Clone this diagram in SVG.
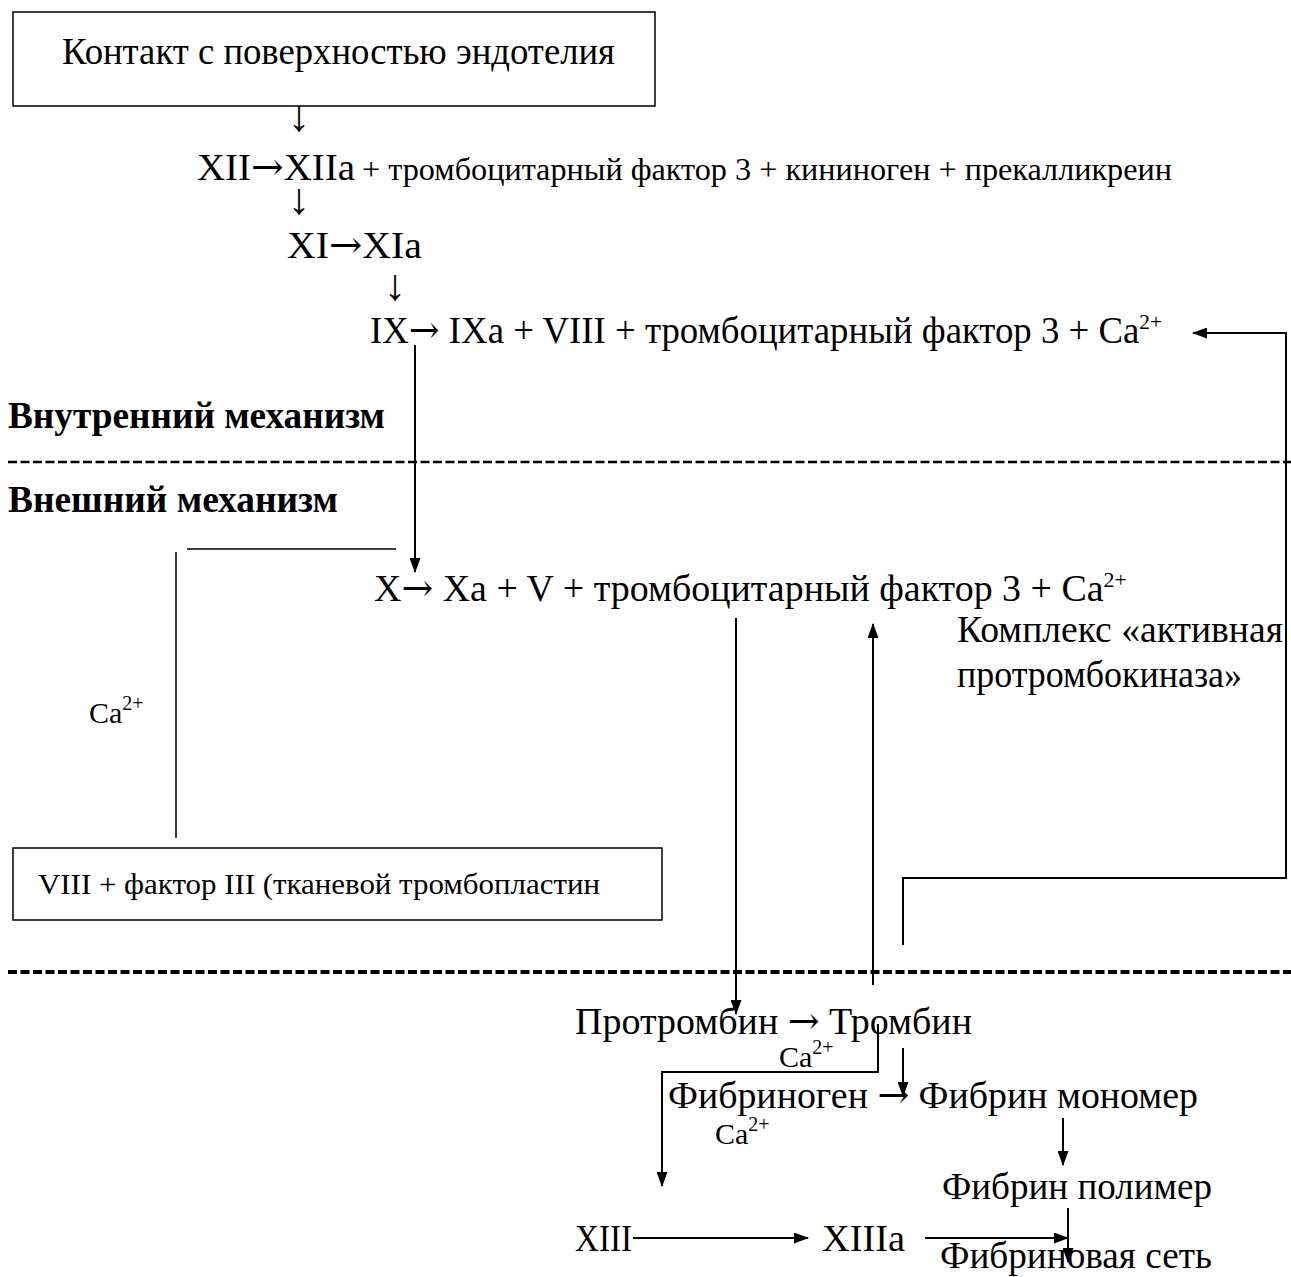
<svg xmlns="http://www.w3.org/2000/svg" width="1291" height="1277" viewBox="0 0 1291 1277">
<style>
text{font-family:"Liberation Serif","Times New Roman",serif;fill:#000}
.m{font-size:38px}
.k{font-size:37px}
.s{font-size:31px}
.c{font-size:30px}
.sup{font-size:20px}
.sup2{font-size:22px}
.b{font-size:37px;font-weight:bold}
.ar{font-family:"DejaVu Serif",serif}
.dn{font-size:44px}
.box{fill:#fff;stroke:#000;stroke-width:1.5}
.ln{fill:none;stroke:#000;stroke-width:2}
.thin{fill:none;stroke:#000;stroke-width:1.5}
.arr{fill:none;stroke:#000;stroke-width:2;marker-end:url(#ah)}
.dash1{stroke:#000;stroke-width:2.5;stroke-dasharray:9 3.5}
.dash2{stroke:#000;stroke-width:4;stroke-dasharray:9 3.5}
</style>
<defs>
<marker id="ah" markerUnits="userSpaceOnUse" markerWidth="15" markerHeight="11" refX="14" refY="5.5" orient="auto">
<path d="M0,0 L15,5.5 L0,11 z" fill="#000"/>
</marker>
</defs>
<rect width="1291" height="1277" fill="#fff"/>

<g id="n-contact">
<rect class="box" x="13" y="12" width="642" height="94"/>
<text class="m" x="62" y="64" textLength="553" lengthAdjust="spacingAndGlyphs">Контакт с поверхностью эндотелия</text>
</g>
<g id="n-arrow1"><text class="dn" x="288" y="131">↓</text></g>
<g id="n-xii">
<text class="m" x="197" y="180" textLength="158" lengthAdjust="spacingAndGlyphs">XII<tspan class="ar">→</tspan>XIIa</text>
<text class="s" x="362" y="180" textLength="810" lengthAdjust="spacingAndGlyphs">+ тромбоцитарный фактор 3 + кининоген + прекалликреин</text>
</g>
<g id="n-arrow2"><text class="dn" x="288" y="214">↓</text></g>
<g id="n-xi"><text class="m" x="287" y="258" textLength="135" lengthAdjust="spacingAndGlyphs">XI<tspan class="ar">→</tspan>XIa</text></g>
<g id="n-arrow3"><text class="dn" x="384" y="300">↓</text></g>
<g id="n-ix">
<text class="m" x="370" y="343" textLength="792" lengthAdjust="spacingAndGlyphs">IX<tspan class="ar">→</tspan> IXa + VIII + тромбоцитарный фактор 3 + Ca<tspan class="sup2" dy="-14">2+</tspan></text>
</g>
<g id="n-intrinsic"><text class="b" x="8" y="428" textLength="377" lengthAdjust="spacingAndGlyphs">Внутренний механизм</text></g>
<g id="n-extrinsic"><text class="b" x="8" y="512" textLength="330" lengthAdjust="spacingAndGlyphs">Внешний механизм</text></g>
<g id="n-x">
<text class="m" x="374" y="601" textLength="753" lengthAdjust="spacingAndGlyphs">X<tspan class="ar">→</tspan> Xa + V + тромбоцитарный фактор 3 + Ca<tspan class="sup2" dy="-14">2+</tspan></text>
</g>
<g id="n-complex">
<text class="k" x="957" y="642" textLength="326" lengthAdjust="spacingAndGlyphs">Комплекс «активная</text>
<text class="k" x="957" y="687" textLength="285" lengthAdjust="spacingAndGlyphs">протромбокиназа»</text>
</g>
<g id="n-ca-left">
<text class="c" x="89" y="723">Ca<tspan class="sup" dy="-13">2+</tspan></text>
</g>
<g id="n-viii">
<rect class="box" x="13" y="848" width="649" height="72"/>
<text class="c" x="38" y="894" textLength="562" lengthAdjust="spacingAndGlyphs">VIII + фактор III (тканевой тромбопластин</text>
</g>
<g id="n-prothrombin"><text class="m" x="575" y="1034" textLength="397" lengthAdjust="spacingAndGlyphs">Протромбин <tspan class="ar">→</tspan> Тромбин</text></g>
<g id="n-ca-thr">
<text class="c" x="779" y="1067">Ca<tspan class="sup" dy="-13">2+</tspan></text>
</g>
<g id="n-fibrinogen"><text class="m" x="668" y="1108" textLength="530" lengthAdjust="spacingAndGlyphs">Фибриноген <tspan class="ar">→</tspan> Фибрин мономер</text></g>
<g id="n-ca-fib">
<text class="c" x="715" y="1144">Ca<tspan class="sup" dy="-13">2+</tspan></text>
</g>
<g id="n-polymer"><text class="m" x="942" y="1199" textLength="270" lengthAdjust="spacingAndGlyphs">Фибрин полимер</text></g>
<g id="n-xiii"><text class="m" x="575" y="1251" textLength="57" lengthAdjust="spacingAndGlyphs">XIII</text></g>
<g id="n-xiiia"><text class="m" x="822" y="1251" textLength="83" lengthAdjust="spacingAndGlyphs">XIIIa</text></g>
<g id="n-network"><text class="m" x="940" y="1268" textLength="272" lengthAdjust="spacingAndGlyphs">Фибриновая сеть</text></g>

<g id="connectors">
<line class="dash1" x1="8" y1="462" x2="1291" y2="462"/>
<line class="dash2" x1="8" y1="972" x2="1291" y2="972"/>
<path class="arr" d="M415,345 V572"/>
<path class="thin" d="M187,549 H396"/>
<path class="thin" d="M176,552 V838"/>
<path class="arr" d="M736,618 V1014"/>
<path class="arr" d="M873,985 V624"/>
<path class="ln" d="M903,945 V878 H1286 V333 H1193" marker-end="url(#ah)"/>
<path class="ln" d="M878,1024 V1072 H662 V1186" marker-end="url(#ah)"/>
<path class="arr" d="M903,1048 V1096"/>
<path class="arr" d="M1063,1118 V1165"/>
<path class="arr" d="M633,1238 H808"/>
<path class="arr" d="M925,1238 H1068"/>
<path class="arr" d="M1068,1208 V1262"/>
</g>
</svg>
